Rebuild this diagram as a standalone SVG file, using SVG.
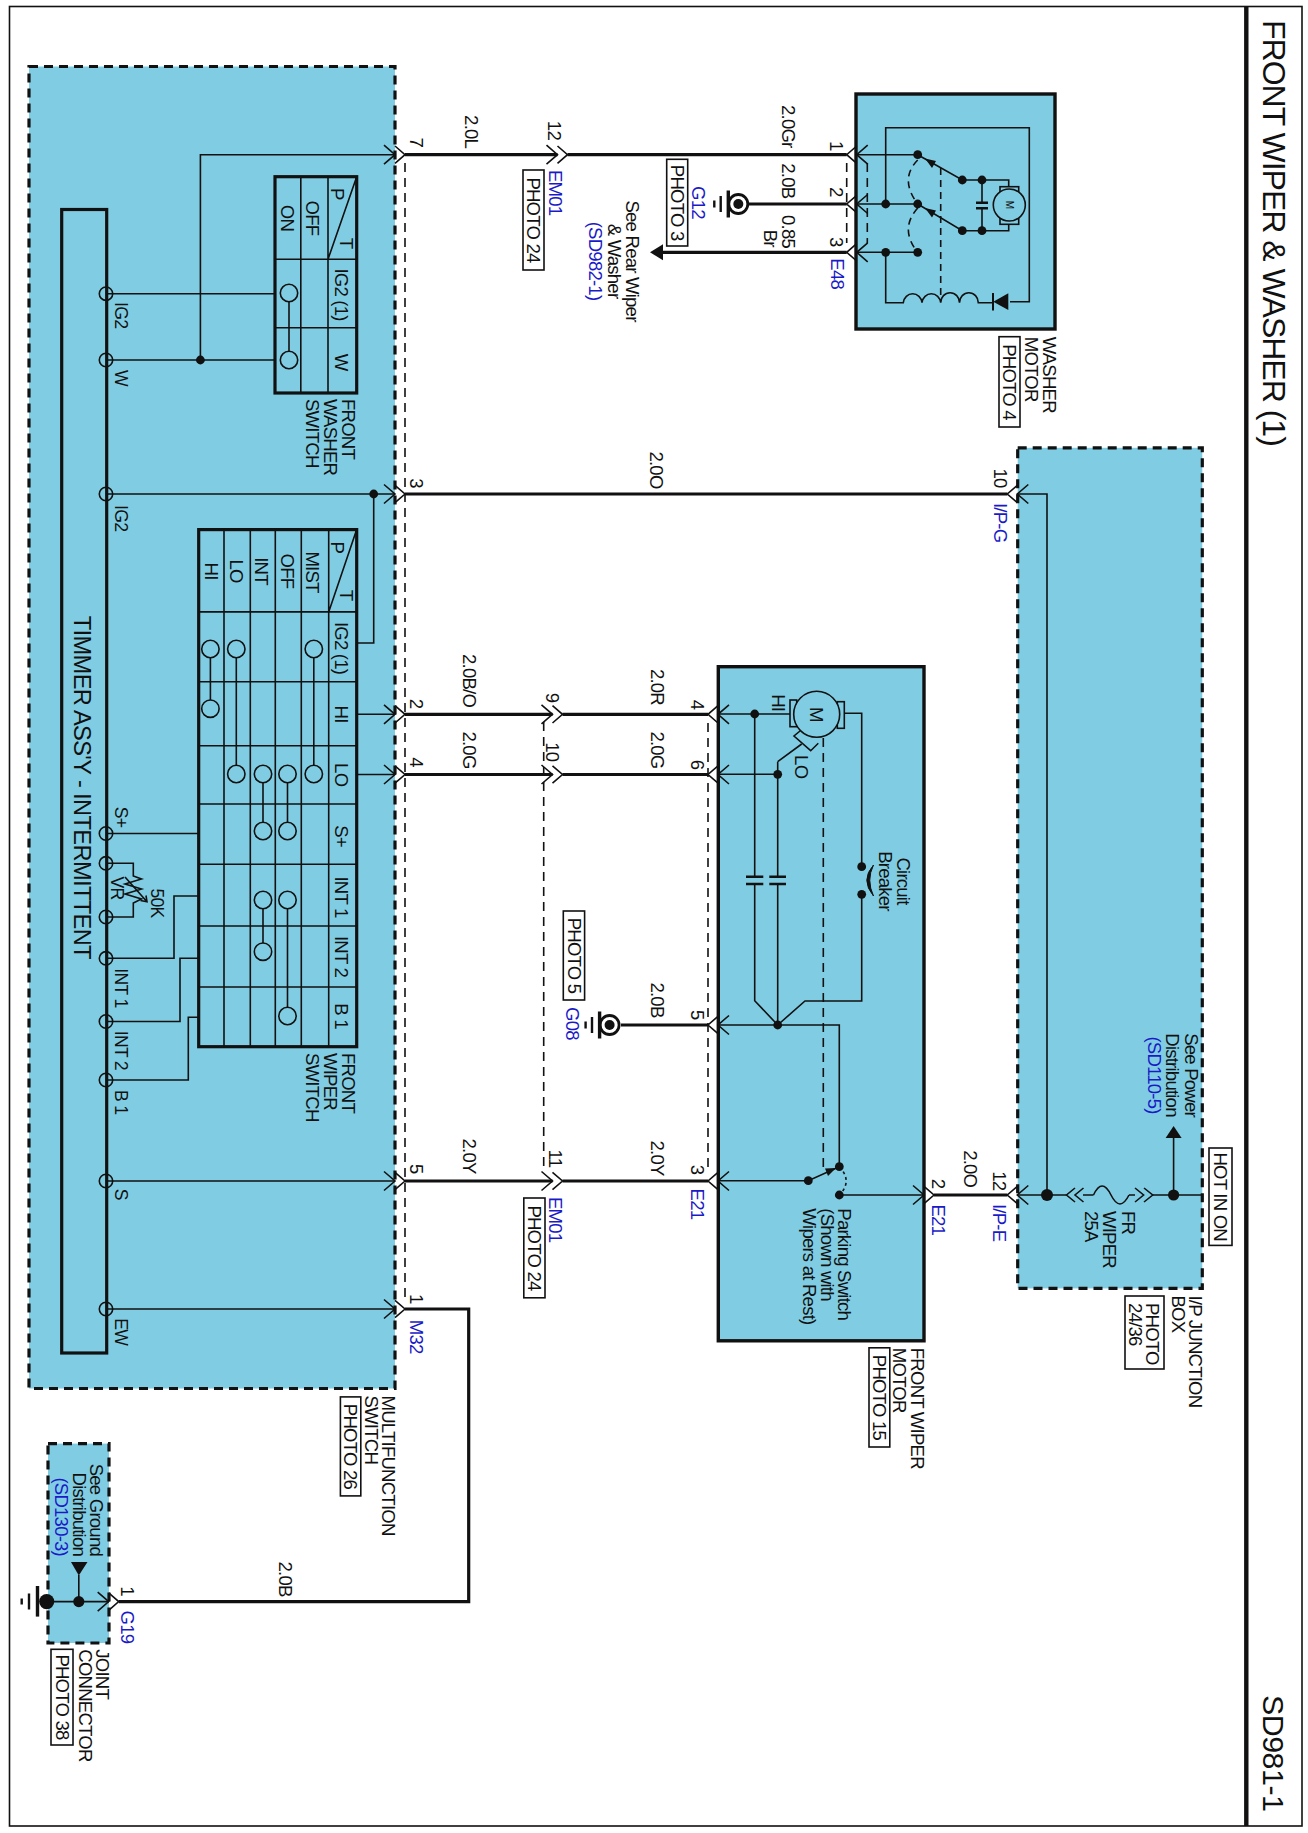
<svg xmlns="http://www.w3.org/2000/svg" width="1308" height="1833" viewBox="0 0 1308 1833">
<style>
text{font-family:"Liberation Sans",Arial,sans-serif;font-size:18.6px;letter-spacing:-.8px;fill:#111;dominant-baseline:central}
.m{text-anchor:middle}.e{text-anchor:end}
.b{fill:#1a1ac8}
.s{font-size:17.6px;letter-spacing:-.7px}
.l{fill:none;stroke:#111;stroke-width:1.6}
.d{fill:none;stroke:#111;stroke-width:1.6;stroke-dasharray:9 6}
.w{fill:none;stroke:#111;stroke-width:3.2}
.o{fill:none;stroke:#111;stroke-width:3.2}
.k{fill:#80cde3;stroke:#111;stroke-width:3.2;stroke-dasharray:9 6}
.s3{fill:#80cde3;stroke:#111;stroke-width:3.4}
.tab{fill:none;stroke:#111;stroke-width:3.2}
.p{fill:#fff;stroke:#111;stroke-width:1.6}
.pb{fill:none;stroke:#111;stroke-width:1.6}
.c{fill:none;stroke:#111;stroke-width:1.6}
</style>
<defs>
<g id="cr"><path class="l" d="M-10 -8.7L0 0L-10 8.7M-21 -9.5L-10 0L-21 9.5"/></g>
<g id="cl"><path class="l" d="M10 -8.7L0 0L10 8.7M21 -9.5L10 0L21 9.5"/></g>
<g id="gn"><circle r="9.5" fill="#fff" stroke="#111" stroke-width="2.8"/><circle r="5" fill="#111"/><path fill="none" stroke="#111" stroke-width="3.4" d="M-10 -13.5V13.5"/><path fill="none" stroke="#111" stroke-width="2.4" d="M-17.6 -8V8M-24 -3.5V3.5"/></g>
<circle id="dt" r="4.4" fill="#111"/>
<circle id="ct" r="8.7" class="c"/>
<circle id="tm" r="6.7" class="c"/>
</defs>

<g id="frame">
<rect x="9.5" y="6.5" width="1292.5" height="1819.5" fill="#fff" stroke="#111" stroke-width="1.6"/>
<path d="M1246.3 6.5V1826" stroke="#111" stroke-width="4.4" fill="none"/>
<text transform="translate(1273.6,20) rotate(90)" style="font-size:32px;letter-spacing:-1px">FRONT WIPER &amp; WASHER (1)</text>
<text transform="translate(1273.6,1695) rotate(90)" style="font-size:30.4px;letter-spacing:-.5px">SD981-1</text>
</g>

<g id="multifunction-switch">
<rect class="k" x="29" y="66.5" width="366" height="1322"/>
<rect class="o" x="61.7" y="209.5" width="45" height="1143.5"/>
<text transform="translate(82,615.8) rotate(90)" style="font-size:23.6px;letter-spacing:-.6px">TIMMER ASS'Y - INTERMITTENT</text>
<use href="#tm" x="106" y="293.7"/><use href="#tm" x="106" y="360"/><use href="#tm" x="106" y="494"/><use href="#tm" x="106" y="833.5"/><use href="#tm" x="106" y="863.3"/><use href="#tm" x="106" y="917"/><use href="#tm" x="106" y="958.3"/><use href="#tm" x="106" y="1021.5"/><use href="#tm" x="106" y="1080"/><use href="#tm" x="106" y="1181"/><use href="#tm" x="106" y="1309"/>
<text class="s" transform="translate(120.8,302) rotate(90)">IG2</text>
<text class="s" transform="translate(120.8,370) rotate(90)">W</text>
<text class="s" transform="translate(120.8,505) rotate(90)">IG2</text>
<text class="s" transform="translate(120.8,806.7) rotate(90)">S+</text>
<text class="s" transform="translate(120.8,968.3) rotate(90)">INT 1</text>
<text class="s" transform="translate(120.8,1030.7) rotate(90)">INT 2</text>
<text class="s" transform="translate(120.8,1090) rotate(90)">B 1</text>
<text class="s" transform="translate(120.8,1188.8) rotate(90)">S</text>
<text class="s" transform="translate(120.8,1318.3) rotate(90)">EW</text>
<path class="l" d="M106 863.3H133.3V876L141.5 879L125 884L141.5 889L125 894L141.5 899L133.3 903V917H106"/>
<path class="l" d="M125 877L147 901.7M140.5 900.5L147 901.7L146 895.5"/>
<text class="s m" transform="translate(116.7,888) rotate(90)">VR</text>
<text class="s m" transform="translate(156.7,903) rotate(90)">50K</text>
<text transform="translate(388.3,1395.5) rotate(90)">MULTIFUNCTION</text>
<text transform="translate(371.7,1395.5) rotate(90)">SWITCH</text>
<rect class="p" x="340.4" y="1396.9" width="20.4" height="99"/>
<text class="m" transform="translate(350.6,1446.4) rotate(90)">PHOTO 26</text>
</g>

<g id="front-washer-switch">
<rect class="tab" x="275" y="176.7" width="81.7" height="216.3"/>
<path class="l" d="M300.8 176.7V393M328 176.7V393M275 259.3H356.7M275 327.7H356.7M328 259.3L356.7 176.7"/>
<text class="m" transform="translate(337.5,193.7) rotate(90)">P</text>
<text class="m" transform="translate(346,243) rotate(90)">T</text>
<text class="m" transform="translate(312.5,218) rotate(90)">OFF</text>
<text class="m" transform="translate(287.5,218) rotate(90)">ON</text>
<text class="m" transform="translate(341.7,294.5) rotate(90)">IG2 (1)</text>
<text class="m" transform="translate(341.7,362) rotate(90)">W</text>
<use href="#ct" x="289" y="293"/><use href="#ct" x="289" y="360"/>
<path class="l" d="M289 301.7V351.3"/>
<text transform="translate(348,399) rotate(90)">FRONT</text>
<text transform="translate(330,399) rotate(90)">WASHER</text>
<text transform="translate(312.5,399) rotate(90)">SWITCH</text>
</g>

<g id="front-wiper-switch">
<rect class="tab" x="198.7" y="529.6" width="158" height="517.1"/>
<path class="l" d="M224 529.6V1046.7M250.3 529.6V1046.7M275.3 529.6V1046.7M301.3 529.6V1046.7M328.7 529.6V1046.7M198.7 611.9H356.7M198.7 681.8H356.7M198.7 745.8H356.7M198.7 804H356.7M198.7 864.3H356.7M198.7 926H356.7M198.7 987H356.7M328.7 611.9L356.7 529.6"/>
<text class="m" transform="translate(337.5,547.4) rotate(90)">P</text>
<text class="m" transform="translate(346,595) rotate(90)">T</text>
<text class="m" transform="translate(312.5,572) rotate(90)">MIST</text>
<text class="m" transform="translate(287.5,571) rotate(90)">OFF</text>
<text class="m" transform="translate(261.7,571) rotate(90)">INT</text>
<text class="m" transform="translate(236,571) rotate(90)">LO</text>
<text class="m" transform="translate(211.7,571) rotate(90)">HI</text>
<text class="m" transform="translate(341.7,648) rotate(90)">IG2 (1)</text>
<text class="m" transform="translate(341.7,714) rotate(90)">HI</text>
<text class="m" transform="translate(341.7,774.7) rotate(90)">LO</text>
<text class="m" transform="translate(341.7,836) rotate(90)">S+</text>
<text class="m" transform="translate(341.7,897) rotate(90)">INT 1</text>
<text class="m" transform="translate(341.7,956.5) rotate(90)">INT 2</text>
<text class="m" transform="translate(341.7,1016) rotate(90)">B 1</text>
<use href="#ct" x="210.4" y="649"/><use href="#ct" x="210.4" y="708.7"/>
<use href="#ct" x="236.3" y="649"/><use href="#ct" x="236.3" y="774"/>
<use href="#ct" x="263" y="774"/><use href="#ct" x="263" y="831"/><use href="#ct" x="263" y="900"/><use href="#ct" x="263" y="951.7"/>
<use href="#ct" x="287.5" y="774"/><use href="#ct" x="287.5" y="831"/><use href="#ct" x="287.5" y="900"/><use href="#ct" x="287.5" y="1016"/>
<use href="#ct" x="313.8" y="649"/><use href="#ct" x="313.8" y="774"/>
<path class="l" d="M210.4 657.7V700M236.3 657.7V765.3M263 782.7V822.3M263 908.7V943M287.5 782.7V822.3M287.5 908.7V1007.3M313.8 657.7V765.3"/>
<text transform="translate(348,1053) rotate(90)">FRONT</text>
<text transform="translate(330,1053) rotate(90)">WIPER</text>
<text transform="translate(312.5,1053) rotate(90)">SWITCH</text>
</g>

<g id="washer-motor">
<rect class="s3" x="856" y="94" width="199" height="235"/>
<path class="l" d="M885.7 204V127.7H1029.3V301.7H1010M885.7 252.3V302.7H903.3A9.4 10 0 0 1 922 302.7A9.4 10 0 0 1 940.7 302.7A9.4 10 0 0 1 959.5 302.7A9.4 10 0 0 1 978.3 302.7H993M856 154.7H917.7M856 204H917.7M856 252.3H917.7"/>
<path fill="#111" d="M1008.3 293.3V310L993.3 301.7Z"/>
<path stroke="#111" stroke-width="2" d="M993 293V310.5"/>
<path class="l" d="M917.7 154.7L962.3 180H982M917.7 204L962.3 230.7H982M982 180V202.7M982 208.3V230.7M982 180H1008.7V186.7M982 230.7H1008.7V224.3"/>
<path fill="#111" d="M925 158.5L936 161L932 168Z M925 208L936 210.5L932 217.5Z"/>
<path stroke="#111" stroke-width="2.4" fill="none" d="M976 202.7H988M976 208.3H988"/>
<rect class="pb" x="1000" y="186.7" width="18.7" height="6"/><rect class="pb" x="1000" y="218.3" width="18.7" height="6"/>
<circle cx="1009.3" cy="205" r="16" fill="#80cde3" stroke="#111" stroke-width="1.6"/>
<text class="m" transform="translate(1009.3,205) rotate(90)" style="font-size:10px;letter-spacing:0">M</text>
<path class="d" d="M940.7 168V300M917.7 160Q899 179 917.7 204M917.7 208Q899 229 917.7 252.3" style="stroke-dasharray:7 5"/>
<use href="#dt" x="917.7" y="154.7"/><use href="#dt" x="885.7" y="204"/><use href="#dt" x="917.7" y="204"/><use href="#dt" x="885.7" y="252.3"/><use href="#dt" x="917.7" y="252.3"/><use href="#dt" x="962.3" y="180"/><use href="#dt" x="982" y="180"/><use href="#dt" x="962.3" y="230.7"/><use href="#dt" x="982" y="230.7"/>
<text transform="translate(1049.3,336.7) rotate(90)">WASHER</text>
<text transform="translate(1031.7,336.7) rotate(90)">MOTOR</text>
<rect class="p" x="999" y="336.7" width="21" height="90.3"/>
<text class="m" transform="translate(1009.7,382) rotate(90)">PHOTO 4</text>
</g>

<g id="front-wiper-motor">
<rect class="s3" x="718.3" y="666.7" width="205.7" height="674.1"/>
<path class="l" d="M718 714H790M718 774.3H777.7M754.7 714V876.7M754.7 884V1000.7L777.7 1025M777.7 761.7V876.7M777.7 884V1025M777.7 761.7L801.7 744M844.3 713.3H861.7V866.7M861.7 894.3V1001H805L777.7 1025M718 1025H839.3V1166.7M718 1180.7H808.3L839.3 1166.7M839.3 1195H924"/>
<path fill="none" stroke="#111" stroke-width="2.4" d="M746 876.7H763.3M746 884H763.3M769.3 876.7H786M769.3 884H786"/>
<rect class="pb" x="790" y="700" width="6.7" height="26.7"/><rect class="pb" x="837.3" y="701.7" width="7" height="26.6"/>
<path class="pb" d="M800 731L794 736L810.7 750.7L818.3 743.3"/>
<circle cx="816.7" cy="714.3" r="23" fill="#80cde3" stroke="#111" stroke-width="1.6"/>
<text class="m" transform="translate(816.7,714.3) rotate(90)">M</text>
<text class="m" transform="translate(778.3,702.7) rotate(90)">HI</text>
<text class="m" transform="translate(801.7,766.7) rotate(90)">LO</text>
<path class="d" d="M823.3 738V1172"/>
<path fill="#111" d="M873.5 865Q860 880 873.5 896Q866 880 873.5 865Z" stroke="#111"/>
<path fill="#111" d="M836 1168L825 1168.5L828 1176Z"/>
<path d="M839.3 1166.7Q853 1181 839.3 1195" fill="none" stroke="#111" stroke-width="1.6" stroke-dasharray="3 3"/>
<use href="#dt" x="754.7" y="714"/><use href="#dt" x="777.7" y="774.3"/><use href="#dt" x="777.7" y="1025"/><use href="#dt" x="861.7" y="866.7"/><use href="#dt" x="861.7" y="894.3"/><use href="#dt" x="839.3" y="1166.7"/><use href="#dt" x="839.3" y="1195"/><use href="#dt" x="808.3" y="1180.7"/>
<text class="m" transform="translate(903.3,881) rotate(90)">Circuit</text>
<text class="m" transform="translate(885,881) rotate(90)">Breaker</text>
<text transform="translate(844,1208.3) rotate(90)">Parking Switch</text>
<text transform="translate(827,1208.3) rotate(90)">(Shown with</text>
<text transform="translate(809.3,1208.3) rotate(90)">Wipers at Rest)</text>
<text transform="translate(917.7,1347.8) rotate(90)">FRONT WIPER</text>
<text transform="translate(899.8,1347.8) rotate(90)">MOTOR</text>
<rect class="p" x="869" y="1347.8" width="20.8" height="99.2"/>
<text class="m" transform="translate(879.4,1397.4) rotate(90)">PHOTO 15</text>
</g>

<g id="ip-junction-box">
<rect class="k" x="1017.7" y="447.8" width="184.6" height="840.6"/>
<path class="l" d="M1017.7 494H1047V1195M1017.7 1195H1066.5M1083 1195H1093.5M1129 1195H1135M1152.7 1195H1202M1173.6 1195V1138"/>
<path class="l" d="M1093.5 1195Q1102 1177 1111 1195T1129 1195"/>
<path class="l" d="M1075 1188L1066.5 1195L1075 1202M1083.5 1188L1075 1195L1083.5 1202M1135 1188L1143.6 1195L1135 1202M1144 1188L1152.7 1195L1144 1202"/>
<path fill="#111" d="M1173.6 1126L1181.6 1138H1165.6Z"/>
<circle cx="1047" cy="1195" r="6" fill="#111"/><circle cx="1173.6" cy="1195" r="5.6" fill="#111"/>
<text class="m" transform="translate(1191.5,1075) rotate(90)">See Power</text>
<text class="m" transform="translate(1172.7,1075) rotate(90)">Distribution</text>
<text class="m b" transform="translate(1154,1075) rotate(90)">(SD110-5)</text>
<text transform="translate(1128,1211) rotate(90)">FR</text>
<text transform="translate(1109.4,1211) rotate(90)">WIPER</text>
<text transform="translate(1091.5,1211) rotate(90)">25A</text>
<rect class="p" x="1209" y="1148" width="23" height="97.4"/>
<text class="m" transform="translate(1220.5,1196.7) rotate(90)">HOT IN ON</text>
<text transform="translate(1195,1295.4) rotate(90)">I/P JUNCTION</text>
<text transform="translate(1178,1295.4) rotate(90)">BOX</text>
<rect class="p" x="1125" y="1296" width="39" height="73"/>
<text transform="translate(1152.7,1303) rotate(90)">PHOTO</text>
<text transform="translate(1135,1303) rotate(90)">24/36</text>
</g>

<g id="joint-connector">
<rect class="k" x="48" y="1443.6" width="61" height="199.4"/>
<path class="l" d="M46.7 1601.6H109M78.8 1601.6V1575"/>
<path fill="#111" d="M71 1562H87.5L78.8 1575.4Z"/>
<circle cx="46.7" cy="1601.6" r="7.6" fill="#111"/><circle cx="78.8" cy="1601.6" r="5.6" fill="#111"/>
<path fill="none" stroke="#111" stroke-width="3.4" d="M37.5 1586V1616.6"/><path fill="none" stroke="#111" stroke-width="2.4" d="M29 1593.5V1609.5M21.7 1598.5V1604.5"/>
<text class="e" transform="translate(96.7,1556) rotate(90)">See Ground</text>
<text class="e" transform="translate(79,1556) rotate(90)">Distribution</text>
<text class="e b" transform="translate(61.7,1556) rotate(90)">(SD130-3)</text>
<text transform="translate(102,1649.3) rotate(90)">JOINT</text>
<text transform="translate(85,1649.3) rotate(90)">CONNECTOR</text>
<rect class="p" x="51" y="1649.3" width="22" height="95.7"/>
<text class="m" transform="translate(62,1697) rotate(90)">PHOTO 38</text>
</g>

<g id="ground-g12"><use href="#gn" x="738.3" y="204"/></g>
<g id="ground-g08"><use href="#gn" x="609.6" y="1025"/></g>

<g id="connectors">
<path class="w" d="M405 154.7H557.5M567.5 154.7H846.7M748 204H846.7M663 252.3H846.7M405 494H1007.3M405 714.3H552.5M562.5 714.3H708M405 774.5H552.5M562.5 774.5H708M621 1025H708M405 1181H552.5M562.5 1181H708M934 1195H1007.3M405 1309H468.7V1601.6H118.7"/>
<path class="l" d="M395 154.7H200.4V360M106 360H275M106 293.7H275M106 494H395M373.7 494V643H356.7M356.7 714.3H395M356.7 774.5H395M106 833.5H198.7M106 958.3H174V896H198.7M106 1021.5H180V958.3H198.7M106 1080H188.3V1017.3H198.7M106 1181H395M106 1309H395"/>
<path class="d" d="M405 163V1300M543.7 722V1172M708 723V1172M846.7 163V243M867.3 163V243"/>
<use href="#dt" x="200.4" y="360"/><use href="#dt" x="373.7" y="494"/>
<path fill="#111" d="M650 252.3L663 244.3V260.3Z"/>
<use href="#cr" x="405" y="154.7"/><use href="#cr" x="405" y="494"/><use href="#cr" x="405" y="714.3"/><use href="#cr" x="405" y="774.5"/><use href="#cr" x="405" y="1181"/><use href="#cr" x="405" y="1309"/>
<use href="#cr" x="567.5" y="154.7"/><use href="#cr" x="562.5" y="714.3"/><use href="#cr" x="562.5" y="774.5"/><use href="#cr" x="562.5" y="1181"/>
<use href="#cr" x="934" y="1195"/><use href="#cr" x="118.7" y="1601.6"/>
<use href="#cl" x="846.7" y="154.7"/><use href="#cl" x="846.7" y="204"/><use href="#cl" x="846.7" y="252.3"/>
<use href="#cl" x="708" y="714.3"/><use href="#cl" x="708" y="774.5"/><use href="#cl" x="708" y="1025"/><use href="#cl" x="708" y="1181"/>
<use href="#cl" x="1007.3" y="494"/><use href="#cl" x="1007.3" y="1195"/>
</g>

<g id="labels">
<text class="m" transform="translate(416.7,142.3) rotate(90)">7</text>
<text class="m" transform="translate(554,130.4) rotate(90)">12</text>
<text class="m" transform="translate(471.7,131.6) rotate(90)">2.0L</text>
<text class="b" transform="translate(555,170) rotate(90)">EM01</text>
<rect class="p" x="523" y="170" width="21" height="100"/>
<text class="m" transform="translate(533.5,220) rotate(90)">PHOTO 24</text>
<text class="m" transform="translate(632,261) rotate(90)">See Rear Wiper</text>
<text class="m" transform="translate(614.6,261) rotate(90)">&amp; Washer</text>
<text class="m b" transform="translate(595.8,261) rotate(90)">(SD982-1)</text>
<text class="m" transform="translate(416.7,483) rotate(90)">3</text>
<text class="m" transform="translate(656,470) rotate(90)">2.0O</text>
<text class="m" transform="translate(1000,478) rotate(90)">10</text>
<text class="b" transform="translate(1000,503) rotate(90)">I/P-G</text>
<text transform="translate(788.3,105) rotate(90)">2.0Gr</text>
<text transform="translate(788.3,163.3) rotate(90)">2.0B</text>
<text transform="translate(788.3,215) rotate(90)">0.85</text>
<text class="e" transform="translate(770.7,246.7) rotate(90)">Br</text>
<text class="m" transform="translate(836.7,145.7) rotate(90)">1</text>
<text class="m" transform="translate(836.7,191.7) rotate(90)">2</text>
<text class="m" transform="translate(836.7,241.7) rotate(90)">3</text>
<text class="b" transform="translate(837.3,258.3) rotate(90)">E48</text>
<text class="b" transform="translate(698.3,186) rotate(90)">G12</text>
<rect class="p" x="666.7" y="159.3" width="21" height="86.7"/>
<text class="m" transform="translate(677.2,202.7) rotate(90)">PHOTO 3</text>
<text class="m" transform="translate(416.7,703.6) rotate(90)">2</text>
<text class="m" transform="translate(416.7,762) rotate(90)">4</text>
<text class="m" transform="translate(469.6,680.6) rotate(90)">2.0B/O</text>
<text class="m" transform="translate(469.6,750) rotate(90)">2.0G</text>
<text class="m" transform="translate(552,697.6) rotate(90)">9</text>
<text class="m" transform="translate(552,751.8) rotate(90)">10</text>
<text class="e" transform="translate(657,705) rotate(90)">2.0R</text>
<text class="e" transform="translate(657,768.5) rotate(90)">2.0G</text>
<text class="e" transform="translate(657,1017.5) rotate(90)">2.0B</text>
<text class="e" transform="translate(657,1175.6) rotate(90)">2.0Y</text>
<text class="m" transform="translate(697.7,704.4) rotate(90)">4</text>
<text class="m" transform="translate(697.7,764.5) rotate(90)">6</text>
<text class="m" transform="translate(697.7,1014.7) rotate(90)">5</text>
<text class="m" transform="translate(697.7,1169.6) rotate(90)">3</text>
<text class="b" transform="translate(697.7,1188.6) rotate(90)">E21</text>
<rect class="p" x="563.3" y="911" width="21.3" height="89"/>
<text class="m" transform="translate(574,955.5) rotate(90)">PHOTO 5</text>
<text class="b" transform="translate(572,1007) rotate(90)">G08</text>
<text class="m" transform="translate(416.7,1168.7) rotate(90)">5</text>
<text class="m" transform="translate(469.6,1156) rotate(90)">2.0Y</text>
<text class="m" transform="translate(555.4,1158.4) rotate(90)">11</text>
<text class="b" transform="translate(555.4,1197) rotate(90)">EM01</text>
<rect class="p" x="523.8" y="1198" width="21.2" height="99.8"/>
<text class="m" transform="translate(534.4,1248) rotate(90)">PHOTO 24</text>
<text class="m" transform="translate(416.7,1298.7) rotate(90)">1</text>
<text class="b" transform="translate(416.7,1319.7) rotate(90)">M32</text>
<text class="m" transform="translate(285.4,1579) rotate(90)">2.0B</text>
<text class="m" transform="translate(127,1591) rotate(90)">1</text>
<text class="b" transform="translate(127,1610.5) rotate(90)">G19</text>
<text class="m" transform="translate(938.6,1183.5) rotate(90)">2</text>
<text class="b" transform="translate(938.6,1204.4) rotate(90)">E21</text>
<text class="m" transform="translate(999,1180.7) rotate(90)">12</text>
<text class="b" transform="translate(999,1204) rotate(90)">I/P-E</text>
<text class="m" transform="translate(970.7,1168.7) rotate(90)">2.0O</text>
</g>
</svg>
